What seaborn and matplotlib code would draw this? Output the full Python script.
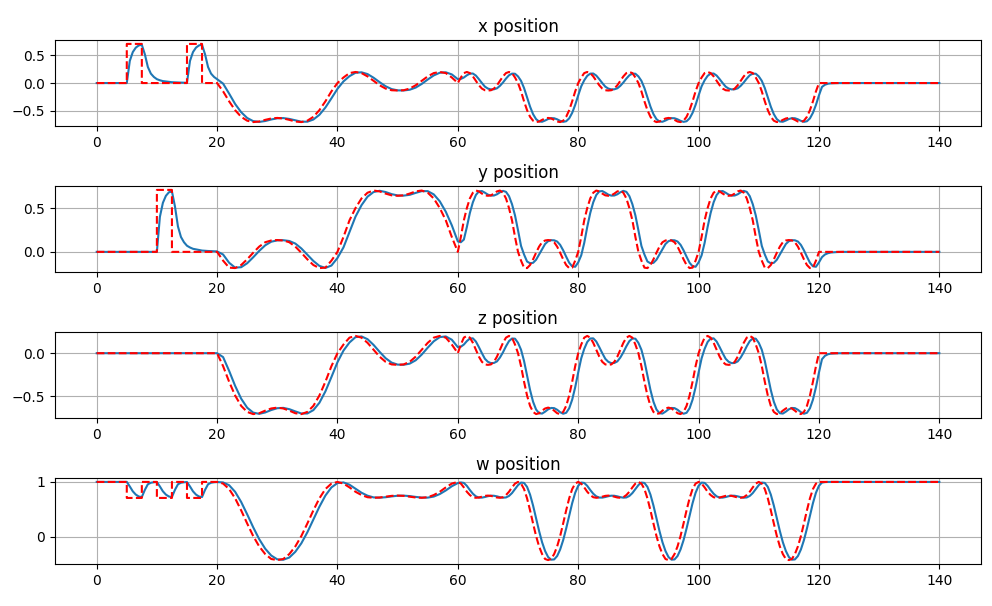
import numpy as np
import matplotlib
matplotlib.use("Agg")
import matplotlib.pyplot as plt
import seaborn as sns

# ---- 0..20 s: step commands (red) ----
t_step_ref = [0, 5, 5, 7.5, 7.5, 10, 10, 12.5, 12.5, 15, 15, 17.5, 17.5, 20]
x_step_ref = [0, 0, 0.707, 0.707, 0, 0, 0, 0, 0, 0, 0.707, 0.707, 0, 0]
y_step_ref = [0, 0, 0, 0, 0, 0, 0.707, 0.707, 0, 0, 0, 0, 0, 0]
z_step_ref = [0, 0, 0, 0, 0, 0, 0, 0, 0, 0, 0, 0, 0, 0]
w_step_ref = [1, 1, 0.707, 0.707, 1, 1, 0.707, 0.707, 1, 1, 0.707, 0.707, 1, 1]

# ---- 0..20 s: response (blue) ----
t_step_out = [0, 5, 5.5, 6, 6.5, 7, 7.5, 8, 8.5, 9, 9.5, 10, 10.5, 11, 11.5, 12,
              12.5, 13, 13.5, 14, 14.5, 15, 15.5, 16, 16.5, 17, 17.5, 18, 18.5,
              19, 19.5, 20]
x_step_out = [0, 0, 0.40, 0.56, 0.64, 0.68, 0.69, 0.52, 0.29, 0.17, 0.11, 0.07,
              0.05, 0.035, 0.028, 0.02, 0.015, 0.012, 0.01, 0.008, 0.006, 0.005,
              0.40, 0.56, 0.64, 0.68, 0.69, 0.52, 0.29, 0.17, 0.11, 0.07]
y_step_out = [0, 0, 0, 0, 0, 0, 0, 0, 0, 0, 0, 0, 0.40, 0.56, 0.64, 0.68, 0.69,
              0.52, 0.29, 0.17, 0.11, 0.07, 0.05, 0.035, 0.028, 0.02, 0.015,
              0.012, 0.01, 0.008, 0.006, 0.005]
z_step_out = [0] * 32
w_step_out = [1, 1, 0.917, 0.828, 0.768, 0.733, 0.724, 0.854, 0.957, 0.985, 0.994,
              0.998, 0.917, 0.828, 0.768, 0.733, 0.724, 0.854, 0.957, 0.985, 0.994,
              0.998, 0.917, 0.828, 0.768, 0.733, 0.724, 0.854, 0.957, 0.985, 0.994,
              0.998]

# ---- 20..120 s: smooth manoeuvres, one entry per 1/20 of a segment ----
bounds = [20, 40, 60, 70, 80, 90, 100, 110, 120]
ref_kind = ["big", "flat", "flat", "big", "flat", "big", "flat", "big"]
out_kind = ["big1", "flat1", "flat2", "big2", "flat3", "big2", "flat3", "big2"]

x_big_ref = [0, -0.15, -0.33, -0.49, -0.61, -0.68, -0.705, -0.695, -0.665, -0.64, -0.63,
             -0.64, -0.665, -0.695, -0.705, -0.68, -0.61, -0.49, -0.33, -0.15, 0]
x_flat_ref = [0, 0.10, 0.18, 0.20, 0.18, 0.12, 0.04, -0.04, -0.10, -0.13, -0.135,
              -0.13, -0.10, -0.04, 0.04, 0.12, 0.18, 0.20, 0.18, 0.10, 0]
y_big_ref = [0, -0.10, -0.18, -0.185, -0.15, -0.085, -0.01, 0.06, 0.11, 0.13, 0.135,
             0.13, 0.11, 0.06, -0.01, -0.085, -0.15, -0.185, -0.18, -0.10, 0]
y_flat_ref = [0, 0.17, 0.36, 0.50, 0.61, 0.675, 0.70, 0.69, 0.665, 0.645, 0.64,
              0.645, 0.665, 0.69, 0.70, 0.675, 0.61, 0.50, 0.36, 0.17, 0]
z_big_ref = [0, -0.15, -0.33, -0.49, -0.61, -0.68, -0.705, -0.695, -0.665, -0.64, -0.63,
             -0.64, -0.665, -0.695, -0.705, -0.68, -0.61, -0.49, -0.33, -0.15, 0]
z_flat_ref = [0, 0.10, 0.18, 0.20, 0.18, 0.12, 0.04, -0.04, -0.10, -0.13, -0.135,
              -0.13, -0.10, -0.04, 0.04, 0.12, 0.18, 0.20, 0.18, 0.10, 0]
w_big_ref = [1.0, 0.97, 0.87, 0.70, 0.48, 0.24, 0.01, -0.18, -0.32, -0.41, -0.43,
             -0.41, -0.32, -0.18, 0.01, 0.24, 0.48, 0.70, 0.87, 0.97, 1.0]
w_flat_ref = [1.0, 0.97, 0.90, 0.82, 0.76, 0.72, 0.71, 0.715, 0.73, 0.745, 0.75,
              0.745, 0.73, 0.715, 0.71, 0.72, 0.76, 0.82, 0.90, 0.97, 1.0]

x_out_big1 = [-0.01, -0.19, -0.378, -0.526, -0.631, -0.688, -0.702, -0.686, -0.658, -0.637,
              -0.633, -0.648, -0.674, -0.698, -0.698, -0.659, -0.574, -0.442, -0.276, -0.105]
x_out_flat1 = [0.03, 0.124, 0.186, 0.194, 0.162, 0.096, 0.016, -0.058, -0.109, -0.132,
               -0.134, -0.121, -0.082, -0.016, 0.064, 0.138, 0.186, 0.194, 0.156, 0.07]
x_out_flat2 = [0.075, 0.10, 0.14, 0.17, 0.172, 0.135, 0.07, 0.0, -0.065, -0.10,
               -0.115, -0.113, -0.095, -0.05, 0.01, 0.08, 0.14, 0.17, 0.168, 0.12]
x_out_big2 = [0.04, -0.09, -0.258, -0.426, -0.562, -0.652, -0.695, -0.699, -0.677, -0.65,
              -0.634, -0.636, -0.655, -0.683, -0.701, -0.69, -0.638, -0.538, -0.394, -0.222]
x_out_flat3 = [-0.06, 0.05, 0.13, 0.17, 0.172, 0.135, 0.07, 0.0, -0.065, -0.10,
               -0.115, -0.113, -0.095, -0.05, 0.01, 0.08, 0.14, 0.17, 0.168, 0.12]

y_out_big1 = [-0.03, -0.124, -0.18, -0.175, -0.13, -0.062, 0.011, 0.075, 0.116, 0.131,
              0.133, 0.124, 0.095, 0.039, -0.032, -0.104, -0.16, -0.183, -0.156, -0.07]
y_out_flat1 = [0.051, 0.227, 0.402, 0.533, 0.63, 0.683, 0.697, 0.683, 0.659, 0.644,
               0.642, 0.651, 0.673, 0.693, 0.693, 0.656, 0.577, 0.458, 0.303, 0.119]
y_out_flat2 = [0.11, 0.14, 0.284, 0.444, 0.566, 0.649, 0.69, 0.694, 0.675, 0.653,
               0.642, 0.643, 0.657, 0.68, 0.696, 0.685, 0.636, 0.544, 0.416, 0.246]
y_out_big2 = [0.068, -0.03, -0.11, -0.13, -0.125, -0.09, -0.03, 0.032, 0.09, 0.122,
              0.133, 0.132, 0.118, 0.08, 0.018, -0.055, -0.124, -0.165, -0.17, -0.12]
y_out_flat3 = [-0.04, 0.102, 0.284, 0.444, 0.566, 0.649, 0.69, 0.694, 0.675, 0.653,
               0.642, 0.643, 0.657, 0.68, 0.696, 0.685, 0.636, 0.544, 0.416, 0.246]

z_out_big1 = [-0.045, -0.204, -0.378, -0.526, -0.631, -0.688, -0.702, -0.686, -0.658, -0.637,
              -0.633, -0.648, -0.674, -0.698, -0.698, -0.659, -0.574, -0.442, -0.276, -0.105]
z_out_flat1 = [0.03, 0.124, 0.186, 0.194, 0.162, 0.096, 0.016, -0.058, -0.109, -0.132,
               -0.134, -0.121, -0.082, -0.016, 0.064, 0.138, 0.186, 0.194, 0.156, 0.07]
z_out_flat2 = [0.075, 0.10, 0.14, 0.17, 0.172, 0.135, 0.07, 0.0, -0.065, -0.10,
               -0.115, -0.113, -0.095, -0.05, 0.01, 0.08, 0.14, 0.17, 0.168, 0.12]
z_out_big2 = [0.04, -0.09, -0.258, -0.426, -0.562, -0.652, -0.695, -0.699, -0.677, -0.65,
              -0.634, -0.636, -0.655, -0.683, -0.701, -0.69, -0.638, -0.538, -0.394, -0.222]
z_out_flat3 = [-0.06, 0.05, 0.13, 0.17, 0.172, 0.135, 0.07, 0.0, -0.065, -0.10,
               -0.115, -0.113, -0.095, -0.05, 0.01, 0.08, 0.14, 0.17, 0.168, 0.12]

w_out_big1 = [0.991, 0.94, 0.819, 0.634, 0.408, 0.171, -0.047, -0.222, -0.347, -0.416,
              -0.424, -0.383, -0.278, -0.123, 0.079, 0.312, 0.546, 0.751, 0.9, 0.979]
w_out_flat1 = [0.991, 0.949, 0.876, 0.802, 0.748, 0.717, 0.712, 0.72, 0.735, 0.747,
               0.749, 0.741, 0.726, 0.714, 0.713, 0.732, 0.778, 0.844, 0.921, 0.979]
w_out_flat2 = [0.99, 0.982, 0.928, 0.852, 0.784, 0.736, 0.714, 0.713, 0.724, 0.739,
               0.748, 0.747, 0.736, 0.721, 0.712, 0.716, 0.744, 0.796, 0.868, 0.942]
w_out_big2 = [0.988, 0.982, 0.91, 0.768, 0.568, 0.336, 0.102, -0.104, -0.264, -0.374,
              -0.422, -0.418, -0.356, -0.236, -0.066, 0.148, 0.384, 0.612, 0.802, 0.93]
w_out_flat3 = [0.988, 0.982, 0.928, 0.852, 0.784, 0.736, 0.714, 0.713, 0.724, 0.739,
               0.748, 0.747, 0.736, 0.721, 0.712, 0.716, 0.744, 0.796, 0.868, 0.942]

# ---- 120..140 s: hold ----
t_hold_ref = [120, 140]
t_hold_out = [120.5, 121, 121.5, 122, 123, 124, 140]
x_hold_out = [-0.07, -0.03, -0.012, -0.005, -0.001, 0, 0]
y_hold_out = [-0.06, -0.03, -0.015, -0.007, -0.002, 0, 0]
z_hold_out = [-0.07, -0.03, -0.012, -0.005, -0.001, 0, 0]
w_hold_out = [0.988, 0.997, 1.0, 1.0, 1.0, 1.0, 1.0]
hold_level = {"x": 0, "y": 0, "z": 0, "w": 1}

g = globals()
t_smooth = np.concatenate([[bounds[0]]] + [np.linspace(a, b, 21)[1:]
                                           for a, b in zip(bounds[:-1], bounds[1:])])


def build(comp):
    ref_s = [g[f"{comp}_big_ref"][0]]
    out_s = []
    for rk, ok in zip(ref_kind, out_kind):
        ref_s += g[f"{comp}_{rk}_ref"][1:]
        out_s += g[f"{comp}_out_{ok}"]
    t_ref = np.concatenate([t_step_ref, t_smooth, t_hold_ref])
    ref = np.concatenate([g[f"{comp}_step_ref"], ref_s, [hold_level[comp]] * 2])
    t_out = np.concatenate([t_step_out, t_smooth[1:], t_hold_out])
    out = np.concatenate([g[f"{comp}_step_out"], out_s, g[f"{comp}_hold_out"]])
    return t_ref, ref, t_out, out


fig, axes = plt.subplots(4, 1, figsize=(9.92, 6.06), dpi=100)
fig.subplots_adjust(left=0.055, right=0.9894, top=0.934, bottom=0.0693, hspace=0.698)

for ax, comp in zip(axes, ["x", "y", "z", "w"]):
    t_ref, ref, t_out, out = build(comp)
    sns.lineplot(x=t_out, y=out, ax=ax, color="#1f77b4", linewidth=1.5,
                 estimator=None, sort=False)
    sns.lineplot(x=t_ref, y=ref, ax=ax, color="red", linestyle="--", linewidth=1.5,
                 estimator=None, sort=False)
    ax.set_title(f"{comp} position")
    ax.set_xlabel("")
    ax.set_ylabel("")
    ax.grid(True)

fig.savefig("out.png", dpi=100)
